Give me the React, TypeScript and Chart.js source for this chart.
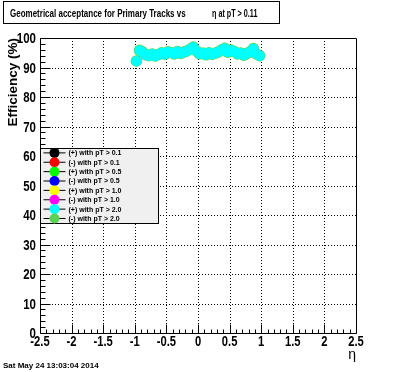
import React, { useEffect, useRef } from "react";
import { Chart, registerables } from "chart.js";

Chart.register(...registerables);

const etaValues = [
  -0.975, -0.925, -0.875, -0.825, -0.775, -0.725, -0.675, -0.625, -0.575, -0.525,
  -0.475, -0.425, -0.375, -0.325, -0.275, -0.225, -0.175, -0.125, -0.075, -0.025,
  0.025, 0.075, 0.125, 0.175, 0.225, 0.275, 0.325, 0.375, 0.425, 0.475,
  0.525, 0.575, 0.625, 0.675, 0.725, 0.775, 0.825, 0.875, 0.925, 0.975,
];
const efficiencyValues = [
  92.2, 95.8, 95.2, 94.3, 94.0, 94.6, 93.9, 94.4, 95.0, 94.5,
  95.3, 95.0, 94.6, 95.4, 94.8, 95.2, 95.6, 96.2, 96.9, 95.6,
  94.6, 94.9, 94.3, 95.0, 94.5, 94.9, 95.3, 96.0, 96.5, 95.2,
  95.9, 95.4, 94.6, 94.9, 94.2, 94.8, 95.3, 96.4, 94.6, 94.0,
];
const seriesLabels = [
  "(+) with pT > 0.1",
  "(-) with pT > 0.1",
  "(+) with pT > 0.5",
  "(-) with pT > 0.5",
  "(+) with pT > 1.0",
  "(-) with pT > 1.0",
  "(+) with pT > 2.0",
  "(-) with pT > 2.0",
];
const seriesColors = [
  "#000000", "#ff0000", "#00ff00", "#0000ff",
  "#ffff00", "#ff00ff", "#00ffff", "#59d354",
];
const titleLeft = "Geometrical acceptance for Primary Tracks vs";
const titleRight = "\u03b7 at pT > 0.11";
const yTitle = "Efficiency (%)";
const xTitle = "\u03b7";
const dateText = "Sat May 24 13:03:04 2014";

const X_MIN = -2.5, X_MAX = 2.5, X_MAJOR = 0.5, X_MINOR = 0.1;
const Y_MIN = 0, Y_MAX = 100, Y_MAJOR = 10, Y_MINOR = 2;

const SANS = '"Liberation Sans", Arial, Helvetica, sans-serif';

function drawText(ctx: CanvasRenderingContext2D, text: string, x: number, y: number, align: CanvasTextAlign, sx: number) {
  ctx.save();
  ctx.translate(x, y);
  ctx.scale(sx, 1);
  ctx.textAlign = align;
  ctx.textBaseline = "alphabetic";
  ctx.fillText(text, 0, 0);
  ctx.restore();
}

const fmt = (v: number) => String(Number(v.toFixed(2)));

const rootPlugin = {
  id: "rootStyle",
  beforeDatasetsDraw(chart: any) {
    const { ctx, chartArea: a, scales } = chart;
    const xs = scales.x, ys = scales.y;
    ctx.save();
    ctx.strokeStyle = "#000";
    ctx.lineWidth = 1;
    ctx.setLineDash([1, 2]);
    xs.ticks.forEach((t: any) => {
      if (t.value <= X_MIN + 1e-9 || t.value >= X_MAX - 1e-9) return;
      const px = Math.round(xs.getPixelForValue(t.value)) + 0.5;
      ctx.beginPath();
      ctx.moveTo(px, a.top);
      ctx.lineTo(px, a.bottom);
      ctx.stroke();
    });
    ys.ticks.forEach((t: any) => {
      if (t.value <= Y_MIN + 1e-9 || t.value >= Y_MAX - 1e-9) return;
      const py = Math.round(ys.getPixelForValue(t.value)) + 0.5;
      ctx.beginPath();
      ctx.moveTo(a.left, py);
      ctx.lineTo(a.right, py);
      ctx.stroke();
    });
    ctx.restore();
  },
  afterDatasetsDraw(chart: any) {
    const { ctx, chartArea: a, scales } = chart;
    const xs = scales.x, ys = scales.y;
    ctx.save();
    ctx.strokeStyle = "#000";
    ctx.lineWidth = 1;
    ctx.setLineDash([]);
    const L = Math.round(a.left) + 0.5, R = Math.round(a.right) + 0.5;
    const T = Math.round(a.top) + 0.5, B = Math.round(a.bottom) + 0.5;
    ctx.beginPath();
    ctx.rect(L, T, R - L, B - T);
    ctx.stroke();
    const nx = Math.round((X_MAX - X_MIN) / X_MINOR);
    for (let i = 0; i <= nx; i++) {
      const v = X_MIN + i * X_MINOR;
      const major = i % Math.round(X_MAJOR / X_MINOR) === 0;
      const px = Math.round(xs.getPixelForValue(v)) + 0.5;
      ctx.beginPath();
      ctx.moveTo(px, B);
      ctx.lineTo(px, B - (major ? 9 : 4));
      ctx.stroke();
    }
    const ny = Math.round((Y_MAX - Y_MIN) / Y_MINOR);
    for (let i = 0; i <= ny; i++) {
      const v = Y_MIN + i * Y_MINOR;
      const major = i % Math.round(Y_MAJOR / Y_MINOR) === 0;
      const py = Math.round(ys.getPixelForValue(v)) + 0.5;
      ctx.beginPath();
      ctx.moveTo(L, py);
      ctx.lineTo(L + (major ? 10 : 5), py);
      ctx.stroke();
    }
    ctx.fillStyle = "#000";
    ctx.font = "bold 14px " + SANS;
    xs.ticks.forEach((t: any) => {
      const px = xs.getPixelForValue(t.value);
      drawText(ctx, fmt(t.value), px, a.bottom + 12.5, "center", 0.8);
    });
    ys.ticks.forEach((t: any) => {
      const py = ys.getPixelForValue(t.value);
      drawText(ctx, fmt(t.value), a.left - 4, py + 5, "right", 0.82);
    });
    ctx.restore();
  },
  afterDraw(chart: any) {
    const { ctx, chartArea: a } = chart;
    ctx.save();
    ctx.fillStyle = "#fff";
    ctx.fillRect(3.5, 1.5, 276, 22);
    ctx.strokeStyle = "#000";
    ctx.lineWidth = 1;
    ctx.strokeRect(3.5, 1.5, 276, 22);
    ctx.fillStyle = "#000";
    ctx.font = "bold 10px " + SANS;
    drawText(ctx, titleLeft, 10, 16.5, "left", 0.8);
    drawText(ctx, titleRight, 212, 16.5, "left", 0.72);

    ctx.save();
    ctx.translate(17, a.top);
    ctx.rotate(-Math.PI / 2);
    ctx.font = "bold 13.5px " + SANS;
    ctx.textAlign = "right";
    ctx.textBaseline = "alphabetic";
    ctx.fillText(yTitle, 0, 0);
    ctx.restore();

    ctx.font = "14px " + SANS;
    drawText(ctx, xTitle, a.right, 359, "right", 1);

    ctx.font = "bold 8px " + SANS;
    drawText(ctx, dateText, 3, 368, "left", 1);

    const lx = Math.round(a.left) + 0.5, ly = 148.5, lw = 118, lh = 75;
    ctx.fillStyle = "#f0f0f0";
    ctx.fillRect(lx, ly, lw, lh);
    ctx.strokeStyle = "#000";
    ctx.strokeRect(lx, ly, lw, lh);
    const rowH = lh / seriesLabels.length;
    seriesLabels.forEach((label, i) => {
      const cy = ly + rowH * (i + 0.5) - 0.3;
      ctx.beginPath();
      ctx.moveTo(lx + 3, cy);
      ctx.lineTo(lx + 25, cy);
      ctx.strokeStyle = "#000";
      ctx.lineWidth = 1;
      ctx.stroke();
      ctx.beginPath();
      ctx.arc(lx + 14, cy, 5, 0, Math.PI * 2);
      ctx.fillStyle = seriesColors[i];
      ctx.fill();
      ctx.fillStyle = "#000";
      ctx.font = "bold 7px " + SANS;
      ctx.textAlign = "left";
      ctx.textBaseline = "middle";
      ctx.fillText(label, lx + 28, cy + 0.5);
    });
    ctx.restore();
  },
};

export default function App() {
  const ref = useRef<HTMLCanvasElement | null>(null);
  useEffect(() => {
    document.body.style.margin = "0";
    const canvas = ref.current;
    if (!canvas) return;
    const pts = etaValues.map((x, i) => ({ x, y: efficiencyValues[i] }));
    const chart = new Chart(canvas, {
      type: "scatter",
      data: {
        datasets: [
          {
            label: seriesLabels[6],
            data: pts,
            backgroundColor: seriesColors[6],
            borderWidth: 0,
            pointRadius: 5.2,
            order: 1,
          },
          {
            label: seriesLabels[7],
            data: pts,
            backgroundColor: seriesColors[7],
            borderWidth: 0,
            pointRadius: 5.8,
            order: 2,
          },
        ],
      },
      options: {
        animation: false,
        responsive: false,
        devicePixelRatio: 1,
        events: [],
        layout: { padding: { top: 38, right: 40, left: 0, bottom: 0 } },
        plugins: { legend: { display: false }, tooltip: { enabled: false }, title: { display: false } },
        scales: {
          x: {
            type: "linear",
            min: X_MIN,
            max: X_MAX,
            grid: { display: false, drawTicks: false },
            border: { display: false },
            ticks: { stepSize: X_MAJOR, autoSkip: false, maxRotation: 0, display: false },
            afterFit: (s: any) => { s.height = 39; },
          },
          y: {
            type: "linear",
            min: Y_MIN,
            max: Y_MAX,
            grid: { display: false, drawTicks: false },
            border: { display: false },
            ticks: { stepSize: Y_MAJOR, autoSkip: false, display: false },
            afterFit: (s: any) => { s.width = 40; },
          },
        },
      },
      plugins: [rootPlugin],
    } as any);
    return () => chart.destroy();
  }, []);
  return (
    <div style={{ position: "absolute", left: 0, top: 0, width: 396, height: 372, background: "#fff" }}>
      <canvas ref={ref} width={396} height={372} style={{ display: "block" }} />
    </div>
  );
}
